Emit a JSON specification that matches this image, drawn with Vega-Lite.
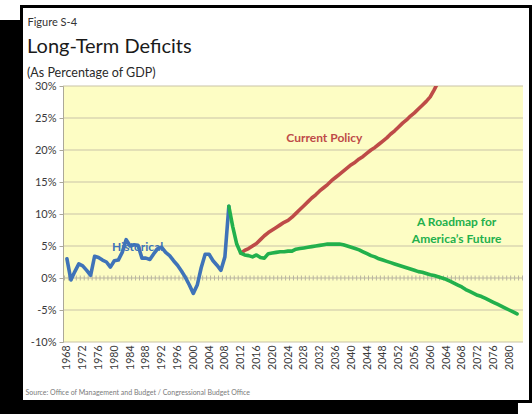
{
  "$schema": "https://vega.github.io/schema/vega-lite/v6.json",
  "width": 460,
  "height": 256,
  "autosize": {"type": "none"},
  "padding": {"left": 63, "top": 86, "right": 9, "bottom": 72},
  "background": "white",
  "config": {
    "view": {"stroke": null},
    "font": "Lato",
    "axisX": {
      "format": "d",
      "labelAngle": 270,
      "labelAlign": "right",
      "labelBaseline": "middle",
      "labelPadding": 3,
      "labelFont": "Lato",
      "labelFontSize": 10.5,
      "labelColor": "#3a3a3a",
      "labelOverlap": false,
      "labelFlush": false,
      "labelBound": false,
      "ticks": false,
      "domain": false,
      "grid": false,
      "titleX": -38,
      "titleY": 50,
      "titleAlign": "left",
      "titleAnchor": "start",
      "titleBaseline": "middle",
      "titleFont": "Lato",
      "titleFontSize": 7,
      "titleFontWeight": "normal",
      "titleColor": "#7a7a7a"
    },
    "axisY": {
      "labelExpr": "datum.value + '%'",
      "grid": false,
      "domain": true,
      "domainColor": "#ABA899",
      "ticks": true,
      "tickColor": "#ABA899",
      "tickSize": 4,
      "labelPadding": 3,
      "labelFont": "Lato",
      "labelFontSize": 11,
      "labelColor": "#3a3a3a",
      "labelOverlap": false,
      "labelFlush": false,
      "labelBound": false,
      "titleAngle": 0,
      "titleX": -36,
      "titleY": -64,
      "titleAlign": "left",
      "titleAnchor": "start",
      "titleBaseline": "middle",
      "titleFont": "Lato",
      "titleFontSize": 11,
      "titleFontWeight": "normal",
      "titleColor": "#333333"
    }
  },
  "title": {
    "text": "Long-Term Deficits",
    "subtitle": "(As Percentage of GDP)",
    "anchor": "start",
    "frame": "group",
    "dx": -36,
    "offset": -74,
    "font": "Lato",
    "fontSize": 20,
    "fontWeight": "normal",
    "color": "#1a1a1a",
    "subtitleFont": "Lato",
    "subtitleFontSize": 12.5,
    "subtitleColor": "#2a2a2a",
    "subtitlePadding": 10,
    "zindex": 1
  },
  "datasets": {
    "series": [
      {"year": 1968, "value": 3.0, "series": "Historical"},
      {"year": 1969, "value": -0.3, "series": "Historical"},
      {"year": 1970, "value": 1.0, "series": "Historical"},
      {"year": 1971, "value": 2.2, "series": "Historical"},
      {"year": 1972, "value": 1.9, "series": "Historical"},
      {"year": 1973, "value": 1.2, "series": "Historical"},
      {"year": 1974, "value": 0.4, "series": "Historical"},
      {"year": 1975, "value": 3.4, "series": "Historical"},
      {"year": 1976, "value": 3.2, "series": "Historical"},
      {"year": 1977, "value": 2.8, "series": "Historical"},
      {"year": 1978, "value": 2.5, "series": "Historical"},
      {"year": 1979, "value": 1.7, "series": "Historical"},
      {"year": 1980, "value": 2.7, "series": "Historical"},
      {"year": 1981, "value": 2.8, "series": "Historical"},
      {"year": 1982, "value": 4.0, "series": "Historical"},
      {"year": 1983, "value": 6.0, "series": "Historical"},
      {"year": 1984, "value": 5.0, "series": "Historical"},
      {"year": 1985, "value": 5.2, "series": "Historical"},
      {"year": 1986, "value": 5.1, "series": "Historical"},
      {"year": 1987, "value": 3.1, "series": "Historical"},
      {"year": 1988, "value": 3.1, "series": "Historical"},
      {"year": 1989, "value": 2.9, "series": "Historical"},
      {"year": 1990, "value": 3.8, "series": "Historical"},
      {"year": 1991, "value": 4.6, "series": "Historical"},
      {"year": 1992, "value": 4.8, "series": "Historical"},
      {"year": 1993, "value": 4.0, "series": "Historical"},
      {"year": 1994, "value": 3.5, "series": "Historical"},
      {"year": 1995, "value": 2.7, "series": "Historical"},
      {"year": 1996, "value": 2.0, "series": "Historical"},
      {"year": 1997, "value": 1.1, "series": "Historical"},
      {"year": 1998, "value": 0.1, "series": "Historical"},
      {"year": 1999, "value": -1.1, "series": "Historical"},
      {"year": 2000, "value": -2.4, "series": "Historical"},
      {"year": 2001, "value": -1.1, "series": "Historical"},
      {"year": 2002, "value": 1.6, "series": "Historical"},
      {"year": 2003, "value": 3.7, "series": "Historical"},
      {"year": 2004, "value": 3.7, "series": "Historical"},
      {"year": 2005, "value": 2.7, "series": "Historical"},
      {"year": 2006, "value": 2.0, "series": "Historical"},
      {"year": 2007, "value": 1.2, "series": "Historical"},
      {"year": 2008, "value": 3.3, "series": "Historical"},
      {"year": 2009, "value": 11.2, "series": "Historical"},
      {"year": 2012, "value": 3.9, "series": "Current Policy"},
      {"year": 2013, "value": 4.3, "series": "Current Policy"},
      {"year": 2014, "value": 4.6, "series": "Current Policy"},
      {"year": 2015, "value": 5.0, "series": "Current Policy"},
      {"year": 2016, "value": 5.4, "series": "Current Policy"},
      {"year": 2017, "value": 6.0, "series": "Current Policy"},
      {"year": 2018, "value": 6.6, "series": "Current Policy"},
      {"year": 2019, "value": 7.1, "series": "Current Policy"},
      {"year": 2020, "value": 7.5, "series": "Current Policy"},
      {"year": 2021, "value": 7.9, "series": "Current Policy"},
      {"year": 2022, "value": 8.3, "series": "Current Policy"},
      {"year": 2023, "value": 8.7, "series": "Current Policy"},
      {"year": 2024, "value": 9.0, "series": "Current Policy"},
      {"year": 2025, "value": 9.5, "series": "Current Policy"},
      {"year": 2026, "value": 10.1, "series": "Current Policy"},
      {"year": 2027, "value": 10.7, "series": "Current Policy"},
      {"year": 2028, "value": 11.3, "series": "Current Policy"},
      {"year": 2029, "value": 11.9, "series": "Current Policy"},
      {"year": 2030, "value": 12.5, "series": "Current Policy"},
      {"year": 2031, "value": 13.0, "series": "Current Policy"},
      {"year": 2032, "value": 13.6, "series": "Current Policy"},
      {"year": 2033, "value": 14.1, "series": "Current Policy"},
      {"year": 2034, "value": 14.6, "series": "Current Policy"},
      {"year": 2035, "value": 15.2, "series": "Current Policy"},
      {"year": 2036, "value": 15.7, "series": "Current Policy"},
      {"year": 2037, "value": 16.2, "series": "Current Policy"},
      {"year": 2038, "value": 16.7, "series": "Current Policy"},
      {"year": 2039, "value": 17.2, "series": "Current Policy"},
      {"year": 2040, "value": 17.7, "series": "Current Policy"},
      {"year": 2041, "value": 18.1, "series": "Current Policy"},
      {"year": 2042, "value": 18.6, "series": "Current Policy"},
      {"year": 2043, "value": 19.0, "series": "Current Policy"},
      {"year": 2044, "value": 19.5, "series": "Current Policy"},
      {"year": 2045, "value": 20.0, "series": "Current Policy"},
      {"year": 2046, "value": 20.4, "series": "Current Policy"},
      {"year": 2047, "value": 20.9, "series": "Current Policy"},
      {"year": 2048, "value": 21.4, "series": "Current Policy"},
      {"year": 2049, "value": 21.9, "series": "Current Policy"},
      {"year": 2050, "value": 22.5, "series": "Current Policy"},
      {"year": 2051, "value": 23.0, "series": "Current Policy"},
      {"year": 2052, "value": 23.6, "series": "Current Policy"},
      {"year": 2053, "value": 24.2, "series": "Current Policy"},
      {"year": 2054, "value": 24.7, "series": "Current Policy"},
      {"year": 2055, "value": 25.3, "series": "Current Policy"},
      {"year": 2056, "value": 25.8, "series": "Current Policy"},
      {"year": 2057, "value": 26.4, "series": "Current Policy"},
      {"year": 2058, "value": 27.0, "series": "Current Policy"},
      {"year": 2059, "value": 27.6, "series": "Current Policy"},
      {"year": 2060, "value": 28.3, "series": "Current Policy"},
      {"year": 2061, "value": 29.4, "series": "Current Policy"},
      {"year": 2062, "value": 30.6, "series": "Current Policy"},
      {"year": 2009, "value": 11.2, "series": "Roadmap"},
      {"year": 2010, "value": 8.0, "series": "Roadmap"},
      {"year": 2011, "value": 5.3, "series": "Roadmap"},
      {"year": 2012, "value": 3.9, "series": "Roadmap"},
      {"year": 2013, "value": 3.6, "series": "Roadmap"},
      {"year": 2014, "value": 3.5, "series": "Roadmap"},
      {"year": 2015, "value": 3.3, "series": "Roadmap"},
      {"year": 2016, "value": 3.6, "series": "Roadmap"},
      {"year": 2017, "value": 3.2, "series": "Roadmap"},
      {"year": 2018, "value": 3.1, "series": "Roadmap"},
      {"year": 2019, "value": 3.8, "series": "Roadmap"},
      {"year": 2020, "value": 3.9, "series": "Roadmap"},
      {"year": 2021, "value": 4.0, "series": "Roadmap"},
      {"year": 2022, "value": 4.1, "series": "Roadmap"},
      {"year": 2023, "value": 4.1, "series": "Roadmap"},
      {"year": 2024, "value": 4.2, "series": "Roadmap"},
      {"year": 2025, "value": 4.2, "series": "Roadmap"},
      {"year": 2026, "value": 4.5, "series": "Roadmap"},
      {"year": 2027, "value": 4.6, "series": "Roadmap"},
      {"year": 2028, "value": 4.7, "series": "Roadmap"},
      {"year": 2029, "value": 4.8, "series": "Roadmap"},
      {"year": 2030, "value": 4.9, "series": "Roadmap"},
      {"year": 2031, "value": 5.0, "series": "Roadmap"},
      {"year": 2032, "value": 5.1, "series": "Roadmap"},
      {"year": 2033, "value": 5.2, "series": "Roadmap"},
      {"year": 2034, "value": 5.3, "series": "Roadmap"},
      {"year": 2035, "value": 5.3, "series": "Roadmap"},
      {"year": 2036, "value": 5.3, "series": "Roadmap"},
      {"year": 2037, "value": 5.3, "series": "Roadmap"},
      {"year": 2038, "value": 5.2, "series": "Roadmap"},
      {"year": 2039, "value": 5.0, "series": "Roadmap"},
      {"year": 2040, "value": 4.8, "series": "Roadmap"},
      {"year": 2041, "value": 4.6, "series": "Roadmap"},
      {"year": 2042, "value": 4.4, "series": "Roadmap"},
      {"year": 2043, "value": 4.1, "series": "Roadmap"},
      {"year": 2044, "value": 3.8, "series": "Roadmap"},
      {"year": 2045, "value": 3.5, "series": "Roadmap"},
      {"year": 2046, "value": 3.3, "series": "Roadmap"},
      {"year": 2047, "value": 3.0, "series": "Roadmap"},
      {"year": 2048, "value": 2.8, "series": "Roadmap"},
      {"year": 2049, "value": 2.6, "series": "Roadmap"},
      {"year": 2050, "value": 2.4, "series": "Roadmap"},
      {"year": 2051, "value": 2.2, "series": "Roadmap"},
      {"year": 2052, "value": 2.0, "series": "Roadmap"},
      {"year": 2053, "value": 1.8, "series": "Roadmap"},
      {"year": 2054, "value": 1.6, "series": "Roadmap"},
      {"year": 2055, "value": 1.4, "series": "Roadmap"},
      {"year": 2056, "value": 1.2, "series": "Roadmap"},
      {"year": 2057, "value": 1.0, "series": "Roadmap"},
      {"year": 2058, "value": 0.9, "series": "Roadmap"},
      {"year": 2059, "value": 0.7, "series": "Roadmap"},
      {"year": 2060, "value": 0.5, "series": "Roadmap"},
      {"year": 2061, "value": 0.4, "series": "Roadmap"},
      {"year": 2062, "value": 0.2, "series": "Roadmap"},
      {"year": 2063, "value": 0.0, "series": "Roadmap"},
      {"year": 2064, "value": -0.2, "series": "Roadmap"},
      {"year": 2065, "value": -0.5, "series": "Roadmap"},
      {"year": 2066, "value": -0.8, "series": "Roadmap"},
      {"year": 2067, "value": -1.1, "series": "Roadmap"},
      {"year": 2068, "value": -1.4, "series": "Roadmap"},
      {"year": 2069, "value": -1.8, "series": "Roadmap"},
      {"year": 2070, "value": -2.1, "series": "Roadmap"},
      {"year": 2071, "value": -2.4, "series": "Roadmap"},
      {"year": 2072, "value": -2.7, "series": "Roadmap"},
      {"year": 2073, "value": -2.9, "series": "Roadmap"},
      {"year": 2074, "value": -3.2, "series": "Roadmap"},
      {"year": 2075, "value": -3.5, "series": "Roadmap"},
      {"year": 2076, "value": -3.8, "series": "Roadmap"},
      {"year": 2077, "value": -4.1, "series": "Roadmap"},
      {"year": 2078, "value": -4.4, "series": "Roadmap"},
      {"year": 2079, "value": -4.7, "series": "Roadmap"},
      {"year": 2080, "value": -5.0, "series": "Roadmap"},
      {"year": 2081, "value": -5.3, "series": "Roadmap"},
      {"year": 2082, "value": -5.6, "series": "Roadmap"}
    ],
    "notes": [
      {"year": 1985.9, "value": 4.8, "label": "Historical", "series": "Historical"},
      {"year": 2033.2, "value": 21.8, "label": "Current Policy", "series": "Current Policy"},
      {"year": 2066.7, "value": 8.8, "label": "A Roadmap for", "series": "Roadmap"},
      {"year": 2066.7, "value": 6.1, "label": "America’s Future", "series": "Roadmap"}
    ],
    "grid": [
      {"pct": -10}, {"pct": -5}, {"pct": 5}, {"pct": 10}, {"pct": 15},
      {"pct": 20}, {"pct": 25}, {"pct": 30}
    ],
    "frame": [{"part": "slide"}]
  },
  "layer": [
    {
      "data": {"name": "frame"},
      "mark": {"type": "rect", "fill": "black"},
      "encoding": {
        "x": {"datum": 1940, "type": "quantitative", "scale": {"domain": [1967, 2083.5], "nice": false, "zero": false},
          "axis": {"zindex": 2, "values": [1968, 1972, 1976, 1980, 1984, 1988, 1992, 1996, 2000, 2004, 2008, 2012, 2016, 2020, 2024, 2028, 2032, 2036, 2040, 2044, 2048, 2052, 2056, 2060, 2064, 2068, 2072, 2076, 2080], "labelAngle": 270, "labelOverlap": false, "title": "Source: Office of Management and Budget / Congressional Budget Office"}},
        "x2": {"datum": 2082.23},
        "y": {"datum": 40.31, "type": "quantitative", "scale": {"domain": [-10, 30], "nice": false, "zero": false},
          "axis": {"zindex": 2, "values": [-10, -5, 0, 5, 10, 15, 20, 25, 30], "labelOverlap": false, "title": "Figure S-4"}},
        "y2": {"datum": -30}
      }
    },
    {
      "data": {"name": "frame"},
      "mark": {"type": "rect", "fill": "white", "stroke": "black", "strokeWidth": 3},
      "encoding": {
        "x": {"datum": 1956.49, "type": "quantitative", "scale": {"domain": [1967, 2083.5], "nice": false, "zero": false},
          "axis": {"zindex": 2, "values": [1968, 1972, 1976, 1980, 1984, 1988, 1992, 1996, 2000, 2004, 2008, 2012, 2016, 2020, 2024, 2028, 2032, 2036, 2040, 2044, 2048, 2052, 2056, 2060, 2064, 2068, 2072, 2076, 2080], "labelAngle": 270, "labelOverlap": false, "title": "Source: Office of Management and Budget / Congressional Budget Office"}},
        "x2": {"datum": 2085.4},
        "y": {"datum": 42.42, "type": "quantitative", "scale": {"domain": [-10, 30], "nice": false, "zero": false},
          "axis": {"zindex": 2, "values": [-10, -5, 0, 5, 10, 15, 20, 25, 30], "labelOverlap": false, "title": "Figure S-4"}},
        "y2": {"datum": -19.3}
      }
    },
    {
      "data": {"name": "frame"},
      "mark": {"type": "rect", "fill": "#FDFDC4"},
      "encoding": {
        "x": {"datum": 1967, "type": "quantitative", "scale": {"domain": [1967, 2083.5], "nice": false, "zero": false},
          "axis": {"zindex": 2, "values": [1968, 1972, 1976, 1980, 1984, 1988, 1992, 1996, 2000, 2004, 2008, 2012, 2016, 2020, 2024, 2028, 2032, 2036, 2040, 2044, 2048, 2052, 2056, 2060, 2064, 2068, 2072, 2076, 2080], "labelAngle": 270, "labelOverlap": false, "title": "Source: Office of Management and Budget / Congressional Budget Office"}},
        "x2": {"datum": 2083.5},
        "y": {"datum": 30, "type": "quantitative", "scale": {"domain": [-10, 30], "nice": false, "zero": false},
          "axis": {"zindex": 2, "values": [-10, -5, 0, 5, 10, 15, 20, 25, 30], "labelOverlap": false, "title": "Figure S-4"}},
        "y2": {"datum": -10}
      }
    },
    {
      "data": {"name": "grid"},
      "mark": {"type": "rule", "color": "#C9C4A8", "strokeWidth": 1.2},
      "encoding": {
        "y": {"field": "pct", "type": "quantitative", "scale": {"domain": [-10, 30], "nice": false, "zero": false},
          "axis": {"zindex": 2, "values": [-10, -5, 0, 5, 10, 15, 20, 25, 30], "labelOverlap": false, "title": "Figure S-4"}}
      }
    },
    {
      "data": {"name": "frame"},
      "mark": {"type": "rule", "color": "#B9B5A0", "strokeWidth": 1.2},
      "encoding": {
        "y": {"datum": 0, "type": "quantitative", "scale": {"domain": [-10, 30], "nice": false, "zero": false},
          "axis": {"zindex": 2, "values": [-10, -5, 0, 5, 10, 15, 20, 25, 30], "labelOverlap": false, "title": "Figure S-4"}}
      }
    },
    {
      "data": {"name": "frame"},
      "mark": {"type": "rule", "color": "#B9B5A0", "strokeWidth": 5, "strokeDash": [1, 2.9485]},
      "encoding": {
        "y": {"datum": 0, "type": "quantitative", "scale": {"domain": [-10, 30], "nice": false, "zero": false},
          "axis": {"zindex": 2, "values": [-10, -5, 0, 5, 10, 15, 20, 25, 30], "labelOverlap": false, "title": "Figure S-4"}}
      }
    },
    {
      "data": {"name": "notes"},
      "mark": {"type": "text", "font": "Lato", "fontSize": 12, "fontWeight": "bold", "align": "center", "baseline": "middle"},
      "encoding": {
        "x": {"field": "year", "type": "quantitative", "scale": {"domain": [1967, 2083.5], "nice": false, "zero": false},
          "axis": {"zindex": 2, "values": [1968, 1972, 1976, 1980, 1984, 1988, 1992, 1996, 2000, 2004, 2008, 2012, 2016, 2020, 2024, 2028, 2032, 2036, 2040, 2044, 2048, 2052, 2056, 2060, 2064, 2068, 2072, 2076, 2080], "labelAngle": 270, "labelOverlap": false, "title": "Source: Office of Management and Budget / Congressional Budget Office"}},
        "y": {"field": "value", "type": "quantitative", "scale": {"domain": [-10, 30], "nice": false, "zero": false},
          "axis": {"zindex": 2, "values": [-10, -5, 0, 5, 10, 15, 20, 25, 30], "labelOverlap": false, "title": "Figure S-4"}},
        "text": {"field": "label"},
        "color": {"field": "series", "type": "nominal", "scale": {"domain": ["Historical", "Current Policy", "Roadmap"], "range": ["#3F73B8", "#BE4B48", "#22B04C"]}, "legend": null}
      }
    },
    {
      "data": {"name": "series"},
      "mark": {"type": "line", "strokeWidth": 3.6, "strokeJoin": "round", "strokeCap": "round", "clip": true},
      "encoding": {
        "x": {"field": "year", "type": "quantitative", "scale": {"domain": [1967, 2083.5], "nice": false, "zero": false},
          "axis": {"zindex": 2, "values": [1968, 1972, 1976, 1980, 1984, 1988, 1992, 1996, 2000, 2004, 2008, 2012, 2016, 2020, 2024, 2028, 2032, 2036, 2040, 2044, 2048, 2052, 2056, 2060, 2064, 2068, 2072, 2076, 2080], "labelAngle": 270, "labelOverlap": false, "title": "Source: Office of Management and Budget / Congressional Budget Office"}},
        "y": {"field": "value", "type": "quantitative", "scale": {"domain": [-10, 30], "nice": false, "zero": false},
          "axis": {"zindex": 2, "values": [-10, -5, 0, 5, 10, 15, 20, 25, 30], "labelOverlap": false, "title": "Figure S-4"}},
        "color": {"field": "series", "type": "nominal", "scale": {"domain": ["Historical", "Current Policy", "Roadmap"], "range": ["#3F73B8", "#BE4B48", "#22B04C"]}, "legend": null}
      }
    }
  ]
}
